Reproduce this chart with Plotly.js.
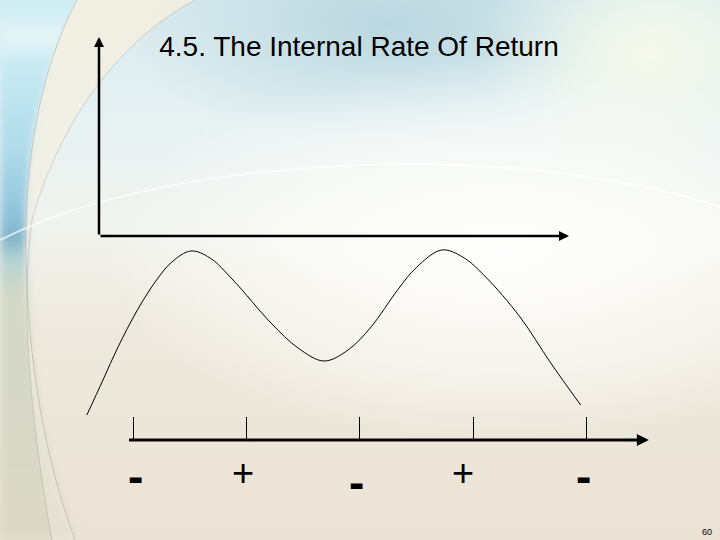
<!DOCTYPE html>
<html>
<head>
<meta charset="utf-8">
<script src="https://cdn.plot.ly/plotly-3.0.1.min.js"></script>
<style>
  html, body { margin: 0; padding: 0; width: 720px; height: 540px; overflow: hidden; }
  #bg { position: absolute; left: 0; top: 0; width: 720px; height: 540px; }
  #chart { position: absolute; left: 0; top: 0; width: 720px; height: 540px; }
</style>
</head>
<body>
<svg id="bg" width="720" height="540" viewBox="0 0 720 540">
  <defs>
    <linearGradient id="base" x1="0" y1="0" x2="0" y2="1">
      <stop offset="0" stop-color="#d9ebef"/>
      <stop offset="0.22" stop-color="#e6f1f2"/>
      <stop offset="0.42" stop-color="#f1f3ee"/>
      <stop offset="0.58" stop-color="#eeeadf"/>
      <stop offset="1" stop-color="#ebe3d5"/>
    </linearGradient>
    <radialGradient id="topblue" cx="0.5" cy="0.5" r="0.5">
      <stop offset="0" stop-color="#b9d6df" stop-opacity="0.95"/>
      <stop offset="1" stop-color="#b9d6df" stop-opacity="0"/>
    </radialGradient>
    <radialGradient id="glow" cx="0.5" cy="0.5" r="0.5">
      <stop offset="0" stop-color="#ffffff" stop-opacity="0.95"/>
      <stop offset="0.6" stop-color="#fdfdfa" stop-opacity="0.6"/>
      <stop offset="1" stop-color="#ffffff" stop-opacity="0"/>
    </radialGradient>
    <radialGradient id="pale" cx="0.5" cy="0.5" r="0.5">
      <stop offset="0" stop-color="#f7faec" stop-opacity="1"/>
      <stop offset="1" stop-color="#f7faec" stop-opacity="0"/>
    </radialGradient>
    <linearGradient id="leftstrip" x1="0" y1="0" x2="0" y2="1">
      <stop offset="0" stop-color="#c9ecf5"/>
      <stop offset="0.07" stop-color="#e6f5f6"/>
      <stop offset="0.12" stop-color="#c8eaf3"/>
      <stop offset="0.28" stop-color="#aedbea"/>
      <stop offset="0.40" stop-color="#8ec3da"/>
      <stop offset="0.44" stop-color="#7fb3cb"/>
      <stop offset="0.48" stop-color="#b3d3d3"/>
      <stop offset="0.55" stop-color="#d3d8c6"/>
      <stop offset="1" stop-color="#dcd8c8"/>
    </linearGradient>
    <linearGradient id="cream" x1="0" y1="0" x2="0" y2="1">
      <stop offset="0" stop-color="#f6f0df" stop-opacity="0.85"/>
      <stop offset="0.5" stop-color="#f3efe2" stop-opacity="0.6"/>
      <stop offset="1" stop-color="#efe9dc" stop-opacity="0.5"/>
    </linearGradient>
    <filter id="soft" x="-0.2" y="-0.2" width="1.4" height="1.4"><feGaussianBlur stdDeviation="4"/></filter>
  </defs>
  <rect x="0" y="0" width="720" height="540" fill="url(#base)"/>
  <ellipse cx="390" cy="25" rx="270" ry="120" fill="url(#topblue)"/>
  <ellipse cx="650" cy="55" rx="170" ry="120" fill="url(#pale)"/>
  <ellipse cx="500" cy="250" rx="400" ry="190" fill="url(#glow)"/>
  <path d="M0,0 L77,0 C40,70 25,160 26,250 C27,360 45,460 75,540 L0,540 Z" fill="url(#leftstrip)" filter="url(#soft)"/>
  <path d="M77,0 L195,0 C120,40 60,120 32,220 C20,300 30,420 52,540 L75,540 C45,460 27,360 26,250 C25,160 40,70 77,0 Z" fill="url(#cream)"/>
  <path d="M77,0 C40,70 25,160 26,250 C27,360 45,460 75,540" fill="none" stroke="rgba(150,150,140,0.4)" stroke-width="1"/>
  <path d="M195,0 C120,40 60,120 32,220 C20,300 30,420 52,540" fill="none" stroke="rgba(150,150,140,0.35)" stroke-width="1"/>
  <path d="M0,240 C120,180 300,160 460,165 C580,170 670,190 720,207" fill="none" stroke="rgba(255,255,255,0.7)" stroke-width="2"/>
</svg>
<div id="chart"></div>
<script>
// ---- data ----
const chartTitle = "4.5. The Internal Rate Of Return";
const pageNumber = "60";

// curve: position along the rate axis vs. value
const rates  = [0.592, 0.734, 0.867, 1.038, 1.207, 1.342, 1.511, 1.679, 1.882, 2.217, 2.456, 2.685,
                2.897, 3.100, 3.334, 3.504, 3.724, 3.909, 4.112, 4.415, 4.686, 4.950];
const values = [0.25, 0.60, 0.93, 1.30, 1.60, 1.78, 1.89, 1.82, 1.60, 1.17, 0.92, 0.79,
                0.90, 1.13, 1.50, 1.73, 1.90, 1.83, 1.63, 1.23, 0.77, 0.35];

// sign line: tick marks and the sign written under each interval
const signTicks     = [1, 2, 3, 4, 5];
const signLabels    = ["-", "+", "-", "+", "-"];
const signLabelAt   = [1.02, 1.968, 2.973, 3.916, 4.971];

// ---- layout constants ----
const FONT = "'Liberation Sans', Arial, sans-serif";
const upperAxis = { x0: 0.699, y0: 2.04, xEnd: 4.847, yEnd: 4.03 };
const signAxis  = { x0: 0.951, xEnd: 5.552, y: 0 };
const labelDrop = [0, 0, 6, 0, 0];

const curve = {
  type: 'scatter', mode: 'lines',
  x: rates, y: values,
  line: { color: '#000', width: 1, shape: 'spline', smoothing: 1 },
  hoverinfo: 'skip', showlegend: false
};

function arrow(x, y, ax, ay, w) {
  return {
    x: x, y: y, ax: ax, ay: ay, xref: 'x', yref: 'y', axref: 'x', ayref: 'y',
    text: '', showarrow: true, arrowhead: 2, arrowsize: 0.8, arrowwidth: w,
    arrowcolor: '#000', standoff: 0, startstandoff: 0
  };
}

const annotations = [
  arrow(upperAxis.x0, upperAxis.yEnd, upperAxis.x0, upperAxis.y0, 2.5),
  arrow(upperAxis.xEnd, upperAxis.y0, upperAxis.x0, upperAxis.y0, 2.5),
  arrow(signAxis.xEnd, signAxis.y, signAxis.x0, signAxis.y, 3)
];

signLabels.forEach(function (s, i) {
  const isMinus = s === "-";
  annotations.push({
    x: signLabelAt[i], y: 0, xref: 'x', yref: 'y',
    text: isMinus ? '<b>' + s + '</b>' : s, showarrow: false,
    xanchor: 'center', yanchor: 'middle',
    yshift: (isMinus ? -36 : -33) - labelDrop[i],
    font: { family: FONT, size: isMinus ? 46 : 38, color: '#000' }
  });
});

annotations.push({
  x: 707 / 720, y: -0.209, xref: 'paper', yref: 'paper', text: pageNumber,
  showarrow: false, xanchor: 'center', yanchor: 'middle',
  font: { family: FONT, size: 9, color: '#000' }
});

const layout = {
  width: 720, height: 540,
  margin: { l: 0, r: 0, t: 0, b: 100, pad: 0 },
  paper_bgcolor: 'rgba(0,0,0,0)', plot_bgcolor: 'rgba(0,0,0,0)',
  title: {
    text: chartTitle, x: 0.4986, xanchor: 'center', y: 0.915, yanchor: 'middle',
    font: { family: FONT, size: 28, color: '#000' }
  },
  xaxis: {
    range: [-0.1748, 6.180], showgrid: false, zeroline: false, showline: false,
    tickmode: 'array', tickvals: signTicks, showticklabels: false,
    ticks: 'inside', ticklen: 23, tickwidth: 1, tickcolor: '#000', fixedrange: true
  },
  yaxis: { range: [0, 4.4], visible: false, fixedrange: true },
  annotations: annotations,
  showlegend: false
};

Plotly.newPlot('chart', [curve], layout, { displayModeBar: false, staticPlot: true });
</script>
</body>
</html>
